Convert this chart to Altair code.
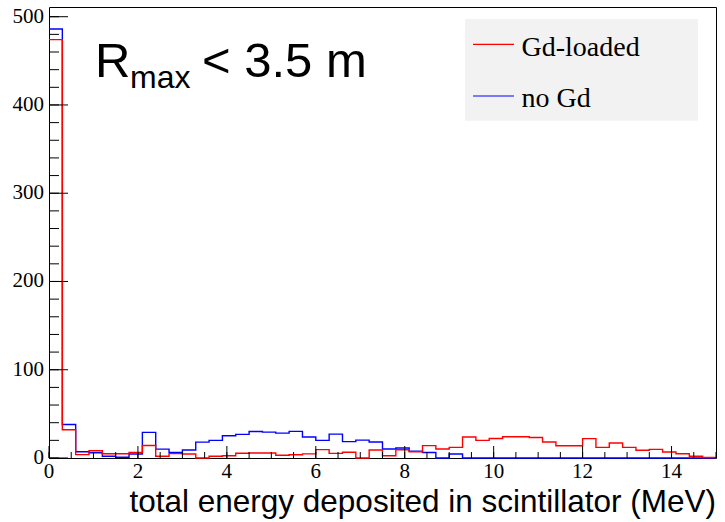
import altair as alt
import pandas as pd
import numpy as np

# ---- data ----
bin_width = 0.3
x_max = 15.0
y_max = 511

series_names = ["Gd-loaded", "no Gd"]
series_colors = ["#ff0000", "#0000ff"]

gd_loaded = [474, 32, 3.8, 8.3, 4.9, 4.9, 6.4, 14.2, 1.9, 5.0,
             4.5, 0, 1.9, 2.6, 5.3, 5.7, 5.6, 3.2, 3.6, 4.7,
             9.5, 5.2, 6.6, 0, 9.0, 2.6, 9.4, 7.0, 14.0, 10.2,
             12.0, 23.8, 20.0, 22.1, 24.0, 24.0, 23.2, 18.1, 13.8, 13.8,
             21.9, 12.0, 17.0, 12.0, 8.7, 9.8, 6.8, 4.9, 1.9, 0.5]
no_gd = [486, 38, 7.0, 6.0, 2.0, 0.8, 4.5, 29.0, 10.0, 6.4,
         9.0, 18.0, 20.0, 25.2, 26.8, 30.0, 29.3, 28.2, 30.2, 23.8,
         20.0, 27.0, 18.5, 20.2, 18.2, 10.2, 11.3, 7.6, 6.2, 0,
         4.5, 0, 0, 0, 0, 0, 0, 0, 0, 0,
         0, 0, 0, 0, 0, 0, 0, 0, 0, 0]

x_label_values = [0, 2, 4, 6, 8, 10, 12, 14]
y_label_values = [0, 100, 200, 300, 400, 500]
x_minor_ticks = [i * 0.5 for i in range(31)]
y_minor_ticks = [i * 20 for i in range(26)]

x_title = "total energy deposited in scintillator (MeV)"

# ---- build tables ----
n_bins = len(gd_loaded)
edges = [round(i * bin_width, 4) for i in range(n_bins)] + [x_max]

rows = []
for name, vals in zip(series_names, [gd_loaded, no_gd]):
    ext = list(vals) + [vals[-1]]
    for e, v in zip(edges, ext):
        rows.append({"energy": e, "count": v, "series": name})
hist = pd.DataFrame(rows)

W, H = 667, 451

xscale = alt.Scale(domain=[0, x_max], nice=False, zero=False)
yscale = alt.Scale(domain=[0, y_max], nice=False, zero=False)
cscale = alt.Scale(domain=series_names, range=series_colors)


def hist_layer(name):
    return alt.Chart(hist[hist.series == name]).mark_line(
        interpolate="step-after", strokeWidth=1.4
    ).encode(
        x=alt.X("energy:Q", scale=xscale, axis=None),
        y=alt.Y("count:Q", scale=yscale, axis=None),
        color=alt.Color("series:N", scale=cscale, legend=None),
    )


blue = hist_layer("no Gd")
red = hist_layer("Gd-loaded")

# ---- ticks (inside, ROOT style) ----
xt_minor = alt.Chart(pd.DataFrame({"t": x_minor_ticks})).mark_rule(color="black", strokeWidth=1).encode(
    x=alt.X("t:Q", scale=xscale, axis=None), y=alt.value(H), y2=alt.value(H - 6))
xt_major = alt.Chart(pd.DataFrame({"t": x_label_values})).mark_rule(color="black", strokeWidth=1).encode(
    x=alt.X("t:Q", scale=xscale, axis=None), y=alt.value(H), y2=alt.value(H - 12))
yt_minor = alt.Chart(pd.DataFrame({"t": y_minor_ticks})).mark_rule(color="black", strokeWidth=1).encode(
    y=alt.Y("t:Q", scale=yscale, axis=None), x=alt.value(0), x2=alt.value(10))
yt_major = alt.Chart(pd.DataFrame({"t": y_label_values})).mark_rule(color="black", strokeWidth=1).encode(
    y=alt.Y("t:Q", scale=yscale, axis=None), x=alt.value(0), x2=alt.value(19))

# ---- tick labels and axis title ----
xl = alt.Chart(pd.DataFrame({"t": x_label_values})).mark_text(
    font="Liberation Serif", fontSize=21, align="center", baseline="top", color="black", dy=3
).encode(x=alt.X("t:Q", scale=xscale, axis=None), y=alt.value(H), text=alt.Text("t:Q"))
yl = alt.Chart(pd.DataFrame({"t": y_label_values})).mark_text(
    font="Liberation Serif", fontSize=21, align="right", baseline="middle", color="black", dx=-5
).encode(y=alt.Y("t:Q", scale=yscale, axis=None), x=alt.value(0), text=alt.Text("t:Q"))

one = pd.DataFrame({"k": [0]})
xtitle = alt.Chart(one).mark_text(
    text=x_title, font="Liberation Sans", fontSize=31.5, align="right",
    baseline="alphabetic", color="black"
).encode(x=alt.value(W), y=alt.value(H + 54))

# ---- annotation: R_max < 3.5 m ----
r_main = alt.Chart(one).mark_text(text="R", font="Liberation Sans", fontSize=49, align="left",
                                  baseline="alphabetic", color="black").encode(
    x=alt.value(46), y=alt.value(70))
r_sub = alt.Chart(one).mark_text(text="max", font="Liberation Sans", fontSize=32, align="left",
                                 baseline="alphabetic", color="black").encode(
    x=alt.value(81), y=alt.value(81))
r_rest = alt.Chart(one).mark_text(text="< 3.5 m", font="Liberation Sans", fontSize=49, align="left",
                                  baseline="alphabetic", color="black").encode(
    x=alt.value(153), y=alt.value(70))

# ---- legend box ----
leg_bg = alt.Chart(one).mark_rect(fill="#f2f2f2").encode(
    x=alt.value(416), x2=alt.value(649), y=alt.value(12), y2=alt.value(113.7))


def legend_entry(name, ly, ty):
    d = pd.DataFrame({"series": [name]})
    line = alt.Chart(d).mark_rule(strokeWidth=1.2).encode(
        x=alt.value(424), x2=alt.value(465), y=alt.value(ly),
        color=alt.Color("series:N", scale=cscale, legend=None))
    txt = alt.Chart(d).mark_text(font="Liberation Serif", fontSize=28, align="left",
                                 baseline="alphabetic", color="black").encode(
        x=alt.value(472.5), y=alt.value(ty), text="series:N")
    return [line, txt]


leg1 = legend_entry("Gd-loaded", 37.3, 49)
leg2 = legend_entry("no Gd", 89, 99.7)

chart = alt.layer(
    blue, red, xt_minor, xt_major, yt_minor, yt_major, xl, yl, xtitle,
    r_main, r_sub, r_rest, leg_bg, *leg1, *leg2
).properties(
    width=W, height=H,
    autosize=alt.AutoSizeParams(type="none"),
    padding={"left": 49, "top": 7, "right": 9, "bottom": 64},
    background="white",
).configure_view(stroke="black", strokeWidth=1)

chart.save("out.html", embed_options={"renderer": "svg", "actions": False})
